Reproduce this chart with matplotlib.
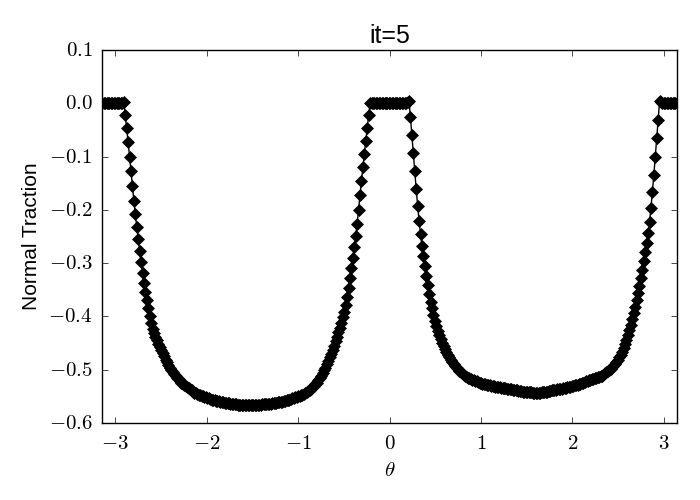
import numpy as np
import matplotlib
matplotlib.use("Agg")
import matplotlib.pyplot as plt
from matplotlib.ticker import FuncFormatter

# ---- data (normal traction vs theta) ----
left_edge = [0.0, 0.0, 0.0, 0.0, 0.0, 0.0, 0.0, 0.0, 0.0, 0.0,
             0.0, 0.0, 0.0, 0.0, 0.0, 0.002]

left_lobe = [-0.022, -0.047, -0.073, -0.100, -0.128, -0.156, -0.183, -0.208, -0.232, -0.255,
             -0.277, -0.298, -0.318, -0.337, -0.354, -0.370, -0.385, -0.399, -0.412,
             -0.424, -0.431, -0.438, -0.445, -0.451, -0.457, -0.463, -0.469, -0.475, -0.481,
             -0.486, -0.491, -0.496, -0.500, -0.504, -0.508, -0.512, -0.515, -0.518, -0.521,
             -0.524, -0.527, -0.529, -0.531, -0.533, -0.535, -0.537, -0.539, -0.541, -0.543,
             -0.544, -0.546, -0.547, -0.548, -0.549, -0.550, -0.551, -0.552, -0.553, -0.554,
             -0.555, -0.556, -0.557, -0.557, -0.558, -0.559, -0.559, -0.560, -0.561, -0.561,
             -0.562, -0.562, -0.563, -0.563, -0.564, -0.564, -0.565, -0.565, -0.565, -0.566,
             -0.566, -0.566, -0.567, -0.567, -0.567, -0.567, -0.567, -0.567, -0.567, -0.567,
             -0.567, -0.567, -0.566, -0.566, -0.566, -0.566, -0.565, -0.565, -0.565, -0.564,
             -0.564, -0.564, -0.564, -0.563, -0.563, -0.562, -0.562, -0.561, -0.561, -0.560,
             -0.560, -0.559, -0.558, -0.557, -0.556, -0.556, -0.555, -0.554, -0.553, -0.552,
             -0.551, -0.550,
             -0.549, -0.548, -0.547, -0.545, -0.544, -0.542, -0.540, -0.538, -0.536, -0.533,
             -0.530, -0.527, -0.524, -0.520, -0.516, -0.511, -0.506, -0.501, -0.496, -0.490,
             -0.484, -0.477, -0.470, -0.463, -0.455, -0.447, -0.439, -0.430, -0.421, -0.412,
             -0.402, -0.391, -0.378, -0.363, -0.346, -0.328, -0.309, -0.290, -0.270, -0.249,
             -0.226, -0.200, -0.172, -0.145, -0.120, -0.096, -0.070, -0.047, -0.022]

center_cap = [0.0, 0.0, 0.0, 0.0, 0.0, 0.0, 0.0, 0.0, 0.0, 0.0,
              0.0, 0.0, 0.0, 0.0, 0.0, 0.0, 0.0, 0.0, 0.0, 0.0,
              0.0, 0.0, 0.0, 0.0, 0.0, 0.0, 0.003, 0.005]

right_lobe = [-0.026, -0.060, -0.094, -0.128, -0.161, -0.192, -0.220, -0.245, -0.267, -0.287,
              -0.306, -0.324,
              -0.341, -0.357, -0.372, -0.385, -0.397, -0.408, -0.418, -0.427, -0.435, -0.442,
              -0.449, -0.455, -0.461, -0.467, -0.472, -0.477, -0.481, -0.485, -0.489, -0.493,
              -0.496, -0.499, -0.502, -0.505, -0.507, -0.509, -0.511, -0.513, -0.515, -0.516,
              -0.518, -0.519, -0.520, -0.521, -0.522, -0.523, -0.524, -0.525,
              -0.526, -0.527, -0.527, -0.528, -0.529, -0.529, -0.530, -0.531, -0.531, -0.532,
              -0.532, -0.533, -0.533, -0.534, -0.534, -0.535, -0.535, -0.536, -0.536, -0.537,
              -0.537, -0.538, -0.538, -0.539, -0.539, -0.540, -0.540, -0.540, -0.541, -0.541,
              -0.541, -0.542, -0.542, -0.542, -0.542, -0.543, -0.543, -0.543, -0.543, -0.543,
              -0.543, -0.542, -0.542, -0.542, -0.541, -0.541, -0.540, -0.540, -0.539, -0.539,
              -0.538,
              -0.538, -0.537, -0.537, -0.536, -0.536, -0.535, -0.534, -0.534, -0.533, -0.532,
              -0.532, -0.531, -0.530, -0.529, -0.529, -0.528, -0.527, -0.526, -0.525, -0.524,
              -0.523, -0.522, -0.521, -0.520, -0.519,
              -0.518, -0.517, -0.516, -0.515, -0.514, -0.513, -0.512, -0.511, -0.509, -0.507,
              -0.505, -0.503, -0.501, -0.498, -0.495, -0.492, -0.489, -0.485, -0.481, -0.477,
              -0.472, -0.466, -0.459, -0.452,
              -0.444, -0.435, -0.426, -0.416, -0.405, -0.394, -0.382, -0.369, -0.356, -0.342,
              -0.327, -0.312, -0.296, -0.280, -0.263, -0.244, -0.222, -0.196, -0.166, -0.134,
              -0.100, -0.066, -0.032]

right_edge = [0.004, 0.003, 0.0, 0.0, 0.0, 0.0, 0.0, 0.0, 0.0, 0.0,
              0.0, 0.0, 0.0]

traction = np.array(left_edge + left_lobe + center_cap + right_lobe + right_edge)
theta = np.linspace(-np.pi, np.pi, len(traction))  # uniform sampling grid

xticks = [-3, -2, -1, 0, 1, 2, 3]
yticks = [-0.6, -0.5, -0.4, -0.3, -0.2, -0.1, 0.0, 0.1]

# ---- plotting ----
plt.style.use("classic")
plt.rcParams["mathtext.fontset"] = "cm"

fig = plt.figure(figsize=(7, 5), dpi=100, facecolor="white")
ax = fig.add_axes([0.146, 0.154, 0.821, 0.746])
ax.plot(theta, traction, color="black", linestyle="-", linewidth=1,
        marker="D", markersize=6, markerfacecolor="black", markeredgecolor="black")

ax.set_xlim(-np.pi, np.pi)
ax.set_ylim(-0.6, 0.1)
ax.set_xticks(xticks)
ax.set_yticks(yticks)
ax.xaxis.set_major_formatter(FuncFormatter(lambda v, p: r"$%d$" % round(v)))
ax.yaxis.set_major_formatter(FuncFormatter(lambda v, p: r"$%.1f$" % (0.0 if abs(v) < 1e-9 else v)))
ax.tick_params(labelsize=15, direction="in", top=True, right=True, pad=7)

ax.set_xlabel(r"$\theta$", fontsize=15)
ax.set_ylabel("Normal Traction", family=["Liberation Sans", "DejaVu Sans"], fontsize=15)
ax.set_title("it=5", family=["Liberation Sans", "DejaVu Sans"], fontsize=18)

fig.savefig("out.png", dpi=100, facecolor="white")
